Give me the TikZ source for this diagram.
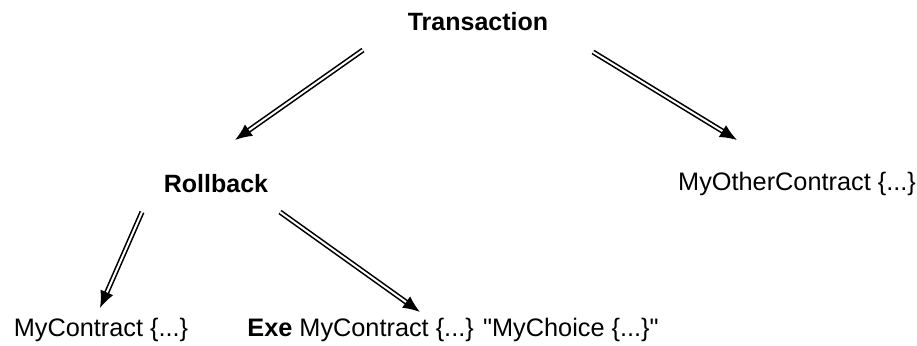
\documentclass[tikz,border=0pt]{standalone}
\usepackage{fontspec}
\setmainfont{Liberation Sans}
\usepackage{tikz}
\usetikzlibrary{arrows.meta}

\begin{document}
\begin{tikzpicture}[x=1pt, y=-1pt, node distance=162pt]
                \tikzstyle{label} = [inner sep=0pt, font=\fontsize{25.3}{30}\selectfont]
                \tikzstyle{head} = [label, font=\fontsize{25}{30}\selectfont\bfseries]
                \tikzstyle{arrow} = [double, line width=1.6pt, double distance=2pt, -{Latex[length=17pt, width=14pt]}]

                \useasboundingbox (0,0) rectangle (917,345);

                \node (trans) [head] at (478,22) {Transaction};
                \node (roll) [head, below of=trans, xshift=-262pt] {Rollback};
                \node (other) [label, below of=trans, xshift=319pt] {MyOtherContract \{...\}};
                \node (mc) [label, node distance=146pt, below of=roll, xshift=-115pt] {MyContract \{...\}};
                \node (exe) [label, node distance=146pt, below of=roll, xshift=237pt] {\textbf{Exe} MyContract \{...\} \textquotedbl MyChoice \{...\}\textquotedbl};

                \draw [arrow] ([xshift=-115pt, yshift=-28pt]trans.center) -- ([xshift=19pt, yshift=44pt]roll.center);
                \draw [arrow] ([xshift=115pt, yshift=-30pt]trans.center) -- ([xshift=-60pt, yshift=44pt]other.center);
                \draw [arrow] ([xshift=-74pt, yshift=-28pt]roll.center) -- ([xshift=-1pt, yshift=22pt]mc.center);
                \draw [arrow] ([xshift=64pt, yshift=-28pt]roll.center) -- ([xshift=-33pt, yshift=18pt]exe.center);
            \end{tikzpicture}
\end{document}
